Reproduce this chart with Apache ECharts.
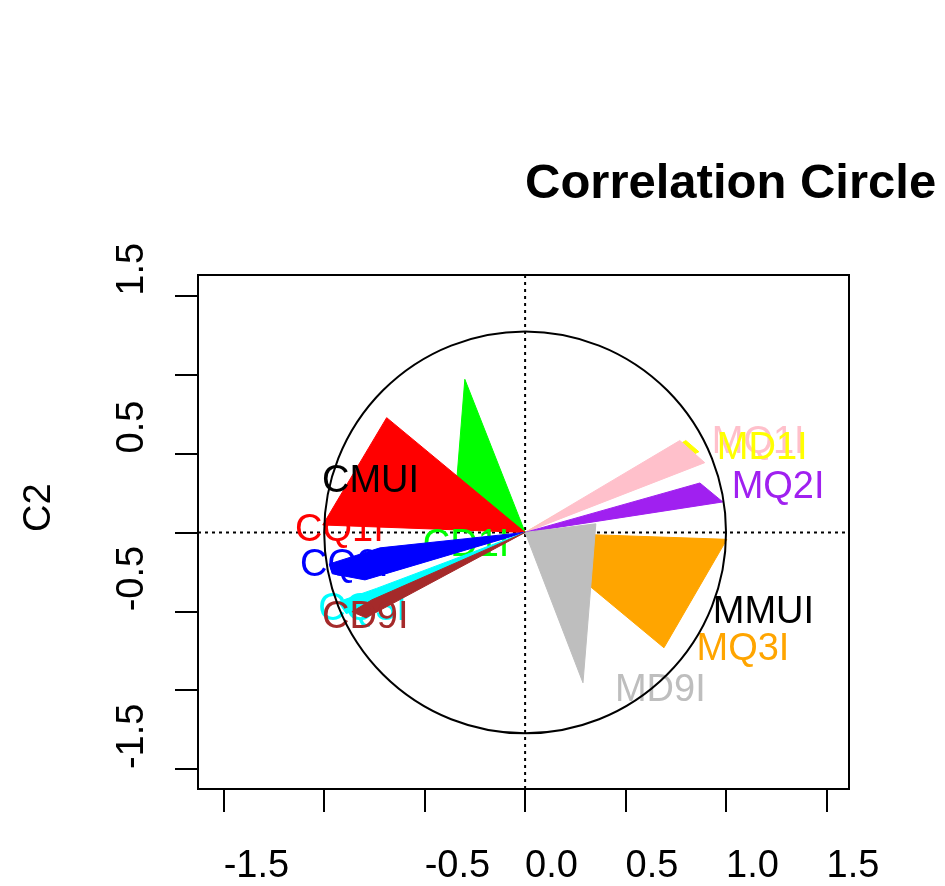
<!DOCTYPE html>
<html>
<head>
<meta charset="utf-8">
<script src="https://cdn.jsdelivr.net/npm/echarts@6/dist/echarts.min.js"></script>
<style>html,body{margin:0;padding:0;background:#fff;}#c{width:945px;height:886px;}</style>
</head>
<body>
<div id="c"></div>
<script>
// ---- data ----
const varNames = ['CMUI','CQ1I','CD1I','CQ2I','CQ3I','CD9I','MMUI','MQ1I','MD1I','MQ2I','MQ3I','MD9I'];
const varColors = ['#000000','#FF0000','#00FF00','#0000FF','#00FFFF','#A52A2A','#000000','#FFC0CB','#FFFF00','#A020F0','#FFA500','#BEBEBE'];
// arrow polygon vertices (data units), origin first
const polyX = [
  [0, -0.673, -0.946],
  [0, -0.689, -1.007],
  [0, -0.300, -0.344],
  [0, -0.722, -0.975, -0.960, -0.797],
  [0, -0.740, -0.930, -0.890],
  [0, -0.762, -0.862, -0.792],
  [0, 0.944, 0.721],
  [0, 0.770, 0.894],
  [0, 0.800, 0.865],
  [0, 0.870, 0.984],
  [0, 1.004, 0.691],
  [0, 0.352, 0.288]
];
const polyY = [
  [0, 0.649, 0.079],
  [0, 0.727, 0.047],
  [0, 0.970, 0.269],
  [0, -0.098, -0.200, -0.262, -0.301],
  [0, -0.355, -0.440, -0.515],
  [0, -0.427, -0.503, -0.541],
  [0, -0.079, -0.649],
  [0, 0.582, 0.442],
  [0, 0.582, 0.511],
  [0, 0.313, 0.193],
  [0, -0.044, -0.731],
  [0, 0.054, -0.953]
];
// label anchors (text starts here)
const labelX = [-1.011, -1.145, -0.509, -1.120, -1.030, -1.011, 0.934, 0.929, 0.954, 1.028, 0.853, 0.447];
const labelY = [0.320, 0.009, -0.085, -0.212, -0.491, -0.541, -0.510, 0.567, 0.529, 0.282, -0.744, -1.000];
const circleRadius = 1;
const xTicks = [-1.5, -1, -0.5, 0, 0.5, 1, 1.5];
const xTickLabels = [-1.5, -0.5, 0, 0.5, 1, 1.5];
const yTicks = [-1.5, -1, -0.5, 0, 0.5, 1, 1.5];
const yTickLabels = [-1.5, -0.5, 0.5, 1.5];
const xMin = -1.628, xMax = 1.612, yMin = -1.626, yMax = 1.631;

// ---- drawing ----
const FONT = '"Liberation Sans", Arial, Helvetica, sans-serif';
const polyOrder  = [1, 3, 2, 5, 7, 9, 1, 2, 1, 3, 2, 3];
const labelOrder = [4, 4, 4, 6, 8, 10, 4, 4, 5, 4, 4, 4];

const chart = echarts.init(document.getElementById('c'), null, {renderer: 'canvas'});
const option = {
  animation: false,
  backgroundColor: '#ffffff',
  title: {
    text: 'Correlation Circle', left: 525, top: 160, padding: 0,
    textStyle: {fontSize: 49, fontWeight: 'bold', fontFamily: FONT, color: '#000'}
  },
  grid: {left: 198, right: 96, top: 275, bottom: 97, show: true, borderColor: '#000', borderWidth: 2, backgroundColor: 'transparent'},
  xAxis: {
    type: 'value', min: xMin, max: xMax,
    axisLine: {show: true, onZero: false, lineStyle: {color: '#000', width: 2}},
    splitLine: {show: false},
    axisTick: {show: true, inside: false, length: 23, customValues: xTicks, lineStyle: {color: '#000', width: 2}},
    axisLabel: {customValues: xTickLabels, formatter: v => Number(v).toFixed(1), align: 'left', verticalAlign: 'top', margin: 59,
      fontSize: 38, fontFamily: FONT, color: '#000'}
  },
  yAxis: {
    type: 'value', min: yMin, max: yMax,
    name: 'C2', nameLocation: 'middle', nameRotate: 90, nameGap: 158,
    nameTextStyle: {fontSize: 38, fontFamily: FONT, color: '#000', align: 'left', verticalAlign: 'middle'},
    axisLine: {show: true, onZero: false, lineStyle: {color: '#000', width: 2}},
    splitLine: {show: false},
    axisTick: {show: true, inside: false, length: 23, customValues: yTicks, lineStyle: {color: '#000', width: 2}},
    axisLabel: {customValues: yTickLabels, formatter: v => Number(v).toFixed(1), rotate: 90, align: 'left', verticalAlign: 'middle', margin: 65,
      fontSize: 38, fontFamily: FONT, color: '#000'}
  },
  series: [
    {
      type: 'custom', z: 1, silent: true,
      data: [[0, 0]],
      renderItem: function (params, api) {
        const o = api.coord([0, 0]);
        const l = api.coord([xMin, 0]);
        const r = api.coord([xMax, 0]);
        const t = api.coord([0, yMax]);
        const b = api.coord([0, yMin]);
        const ls = {stroke: '#000', lineWidth: 2, lineDash: [3, 4]};
        return {type: 'group', children: [
          {type: 'line', shape: {x1: l[0], y1: o[1], x2: r[0], y2: o[1]}, style: ls},
          {type: 'line', shape: {x1: o[0], y1: t[1], x2: o[0], y2: b[1]}, style: ls}
        ]};
      }
    },
    {
      type: 'custom', z: 2, silent: true,
      data: varNames.map((n, i) => [labelX[i], labelY[i], i]),
      renderItem: function (params, api) {
        const i = api.value(2);
        const pts = polyX[i].map((x, k) => api.coord([x, polyY[i][k]]));
        const lp = api.coord([api.value(0), api.value(1)]);
        return {type: 'group', children: [
          {type: 'polygon', z2: polyOrder[i], shape: {points: pts}, style: {fill: varColors[i], stroke: varColors[i], lineWidth: 1}},
          {type: 'text', z2: labelOrder[i], x: lp[0], y: lp[1], style: {text: varNames[i], fill: varColors[i], fontSize: 38, fontFamily: FONT, align: 'left', verticalAlign: 'middle'}}
        ]};
      }
    },
    {
      type: 'custom', z: 3, silent: true,
      data: [[0, 0, circleRadius]],
      renderItem: function (params, api) {
        const c = api.coord([api.value(0), api.value(1)]);
        const e = api.coord([api.value(2), 0]);
        return {type: 'circle', shape: {cx: c[0], cy: c[1], r: e[0] - c[0]}, style: {fill: 'none', stroke: '#000', lineWidth: 2}};
      }
    }
  ]
};
chart.setOption(option);
</script>
</body>
</html>
